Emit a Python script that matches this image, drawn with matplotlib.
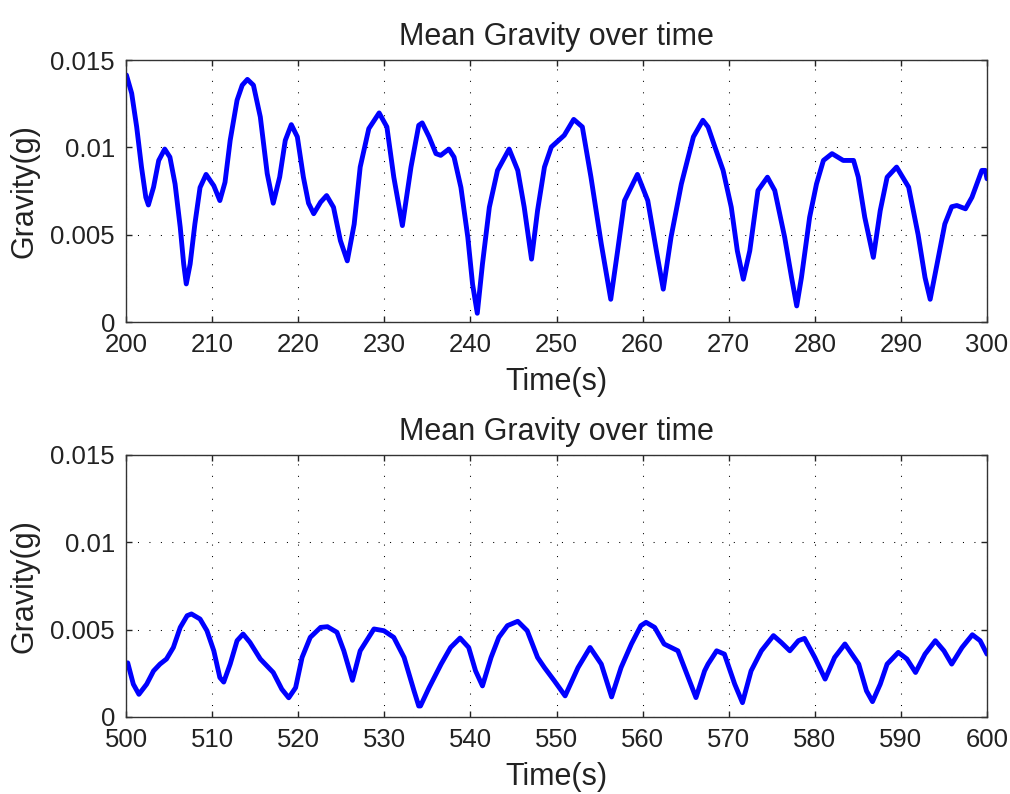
import matplotlib
matplotlib.use("Agg")
import matplotlib.pyplot as plt
from matplotlib.ticker import FixedLocator, FixedFormatter

# ---- data ----
time_top = [200.05, 200.66, 201.24, 201.8, 202.3, 202.6, 203.2, 203.8, 204.5, 205.1,
            205.7, 206.3, 206.7, 207.0, 207.45, 208.0, 208.6, 209.3, 210.2, 210.9,
            211.5, 212.1, 212.9, 213.5, 214.1, 214.8, 215.6, 216.4, 217.1, 217.85,
            218.5, 219.2, 219.9, 220.6, 221.2, 221.8, 222.6, 223.3, 224.1, 224.9,
            225.7, 226.5, 227.2, 228.2, 229.4, 230.3, 231.1, 232.1, 233.1, 234.0,
            234.4, 235.2, 236.0, 236.55, 237.5, 238.1, 238.9, 239.7, 240.25, 240.8,
            241.4, 242.2, 243.15, 244.5, 245.5, 246.25, 247.1, 247.8, 248.6, 249.4,
            250.9, 252.0, 253.0, 254.0, 255.2, 256.3, 257.1, 257.9, 259.4, 260.6,
            261.6, 262.4, 263.3, 264.5, 265.9, 267.0, 267.6, 268.4, 269.35, 270.3,
            271.0, 271.7, 272.45, 273.4, 274.5, 275.35, 276.5, 277.3, 277.9, 278.45,
            279.4, 280.2, 281.0, 282.0, 283.3, 284.5, 285.05, 285.8, 286.8, 287.6,
            288.4, 289.5, 290.9, 292.0, 292.8, 293.4, 294.2, 295.1, 295.9, 296.5,
            297.5, 298.25, 299.4, 299.8, 300.0]
gravity_top = [0.01414, 0.01309, 0.01117, 0.00887, 0.00714, 0.0067, 0.00772, 0.00925, 0.0099, 0.00944,
               0.0079, 0.00542, 0.00332, 0.00218, 0.00332, 0.00561, 0.0077, 0.00845, 0.0078, 0.00695,
               0.0080, 0.0104, 0.0127, 0.01356, 0.01389, 0.01356, 0.01174, 0.0085, 0.0068, 0.0083,
               0.0104, 0.0113, 0.0106, 0.0083, 0.0068, 0.0062, 0.00686, 0.00724, 0.00657, 0.00466,
               0.0035, 0.0056, 0.00887, 0.01107, 0.01197, 0.01117, 0.0083, 0.00552, 0.00887, 0.01126,
               0.0114, 0.0106, 0.00964, 0.00954, 0.0099, 0.00944, 0.0077, 0.00485, 0.00217, 0.0005,
               0.00332, 0.00657, 0.00868, 0.0099, 0.00868, 0.00657, 0.0036, 0.00638, 0.00887, 0.01002,
               0.01069, 0.0116, 0.01117, 0.0083, 0.00447, 0.0013, 0.00408, 0.00695, 0.00845, 0.00695,
               0.00408, 0.00188, 0.00485, 0.0079, 0.0106, 0.01155, 0.01117, 0.01002, 0.00868, 0.00657,
               0.00408, 0.00245, 0.00408, 0.00753, 0.00829, 0.00753, 0.00485, 0.00255, 0.00092, 0.00255,
               0.0060, 0.00791, 0.00925, 0.00964, 0.00925, 0.00925, 0.0083, 0.0060, 0.0037, 0.00638,
               0.00829, 0.00887, 0.00772, 0.0050, 0.00255, 0.0013, 0.00332, 0.00561, 0.0066, 0.00667,
               0.00648, 0.00714, 0.00868, 0.00868, 0.0082]

time_bottom = [500.2, 500.85, 501.5, 502.4, 503.2, 503.95, 504.7, 505.5, 506.3, 507.1,
               507.6, 508.6, 509.4, 510.2, 510.9, 511.35, 512.1, 512.9, 513.6, 514.4,
               515.6, 517.1, 518.1, 518.9, 519.7, 520.45, 521.4, 522.6, 523.4, 524.5,
               525.3, 526.3, 527.2, 528.8, 529.95, 531.1, 532.3, 533.45, 534.0, 534.2,
               535.2, 536.6, 537.7, 538.8, 539.8, 540.6, 541.4, 542.4, 543.3, 544.3,
               545.5, 546.6, 547.8, 548.6, 549.75, 551.0, 552.5, 553.9, 555.2, 556.4,
               557.5, 558.7, 559.8, 560.4, 561.4, 562.5, 564.1, 565.3, 566.2, 567.2,
               567.6, 568.6, 569.5, 570.7, 571.6, 572.6, 573.8, 575.2, 576.1, 577.1,
               578.1, 578.8, 580.0, 581.2, 582.3, 583.5, 585.1, 586.0, 586.7, 587.6,
               588.4, 589.7, 590.7, 591.7, 592.8, 594.0, 595.0, 595.9, 597.1, 598.3,
               599.2, 600.0]
gravity_bottom = [0.0031, 0.00188, 0.0013, 0.00188, 0.00264, 0.00303, 0.00332, 0.00398, 0.00513, 0.0058,
                  0.0059, 0.00561, 0.00494, 0.00379, 0.00226, 0.0020, 0.00303, 0.00437, 0.00475, 0.00427,
                  0.00332, 0.00255, 0.00159, 0.0011, 0.00168, 0.00341, 0.00456, 0.00513, 0.00517, 0.00485,
                  0.00379, 0.0021, 0.00379, 0.00504, 0.00494, 0.00456, 0.00341, 0.0015, 0.00063, 0.00063,
                  0.00168, 0.00303, 0.00398, 0.00452, 0.00398, 0.00264, 0.00178, 0.00341, 0.00456, 0.00523,
                  0.00548, 0.00494, 0.00341, 0.00283, 0.00207, 0.00121, 0.00283, 0.00398, 0.00303, 0.00115,
                  0.00283, 0.00418, 0.00523, 0.00542, 0.00513, 0.00418, 0.00379, 0.00226, 0.00111, 0.00264,
                  0.00303, 0.00379, 0.0036, 0.00188, 0.00082, 0.00264, 0.00379, 0.00466, 0.00427, 0.00379,
                  0.00437, 0.0045, 0.00341, 0.00217, 0.00341, 0.00418, 0.00303, 0.0015, 0.00088, 0.00188,
                  0.00303, 0.0037, 0.00332, 0.00255, 0.0036, 0.00437, 0.00379, 0.00303, 0.00398, 0.00471,
                  0.00437, 0.0036]

y_ticks = [0, 0.005, 0.01, 0.015]
y_tick_labels = ["0", "0.005", "0.01", "0.015"]
x_ticks_top = list(range(200, 301, 10))
x_ticks_bottom = list(range(500, 601, 10))
title_text = "Mean Gravity over time"
x_label = "Time(s)"
y_label = "Gravity(g)"

plt.rcParams['font.family'] = ['Liberation Sans', 'DejaVu Sans']

fig = plt.figure(figsize=(10.10, 7.94), dpi=100)
ax_top = fig.add_axes([126/1010, 1 - 322/794, 861/1010, 262/794])
ax_bot = fig.add_axes([126/1010, 1 - 717/794, 861/1010, 262/794])

for ax, t, g, xt in [(ax_top, time_top, gravity_top, x_ticks_top),
                     (ax_bot, time_bottom, gravity_bottom, x_ticks_bottom)]:
    ax.plot(t, g, color='#0000ff', lw=3.5, solid_joinstyle='round', solid_capstyle='round')
    ax.set_xlim(xt[0], xt[-1])
    ax.set_ylim(0, 0.015)
    ax.xaxis.set_major_locator(FixedLocator(xt))
    ax.xaxis.set_major_formatter(FixedFormatter([str(v) for v in xt]))
    ax.yaxis.set_major_locator(FixedLocator(y_ticks))
    ax.yaxis.set_major_formatter(FixedFormatter(y_tick_labels))
    ax.tick_params(direction='in', length=4, width=1, top=True, right=True,
                   labelsize=18.5, colors='#222222', pad=8)
    ax.grid(True, color='black', linestyle=(0, (1, 10)), linewidth=0.75)
    for s in ax.spines.values():
        s.set_linewidth(1.0)
        s.set_color('#333333')
    ax.set_title(title_text, fontsize=22, color='#222222', pad=11)
    ax.set_xlabel(x_label, fontsize=22, color='#222222', labelpad=7)
    ax.set_ylabel(y_label, fontsize=22, color='#222222', labelpad=8)

fig.savefig("out.png", dpi=100)
